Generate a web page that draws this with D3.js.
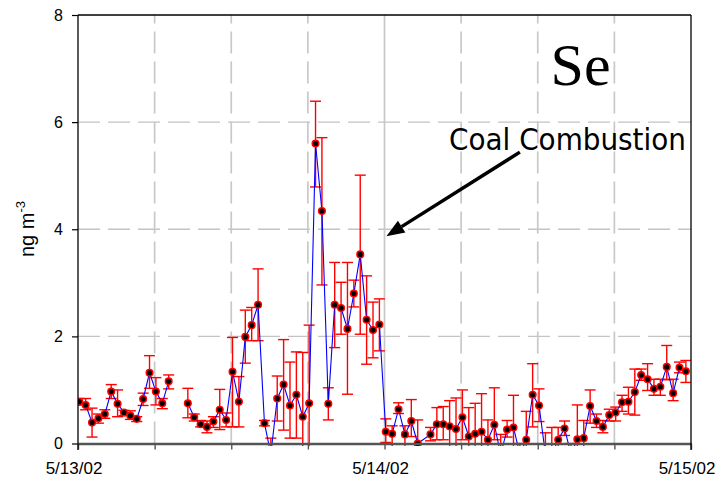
<!DOCTYPE html>
<html><head><meta charset="utf-8">
<script src="https://cdn.jsdelivr.net/npm/d3@7"></script>
<style>body{margin:0;background:#fff}svg{display:block}</style>
</head><body>
<svg id="c" width="719" height="479"></svg>
<script>
// hours after 5/13/02 00:00
const hours = [0.1,0.6,1.1,1.6,2.1,2.6,3.1,3.6,4.1,4.6,5.1,5.6,6.1,6.6,7.1,7.6,
 8.6,9.1,9.6,10.1,10.6,11.1,11.6,12.1,12.6,13.1,13.6,14.1,14.6,15.1,15.6,16.1,16.6,17.1,17.6,18.1,
 18.6,19.1,19.6,20.1,20.6,21.1,21.6,22.1,22.6,23.1,23.6,24.1,24.6,25.1,25.6,26.1,26.6,
 27.6,28.1,28.6,29.1,29.6,30.1,30.6,31.1,31.6,32.1,32.6,33.1,33.6,34.1,34.6,35.1,35.6,36.1,36.6,
 37.1,37.6,38.1,38.6,39.1,39.6,40.1,40.6,41.1,41.6,42.1,42.6,43.1,43.6,44.1,44.6,45.1,45.6,46.1,46.6,47.1,47.6];
const seValues = [0.78,0.72,0.39,0.47,0.55,0.97,0.74,0.58,0.52,0.46,0.83,1.32,0.97,0.75,1.16,null,
 0.75,0.49,0.36,0.31,0.41,0.63,0.44,1.34,0.78,1.99,2.21,2.59,0.38,-0.2,0.84,1.10,0.71,0.91,0.50,0.75,
 5.60,4.34,0.74,2.59,2.53,2.14,2.80,3.53,2.31,2.12,2.22,0.22,0.18,0.64,0.17,0.42,0.0,
 0.17,0.36,0.36,0.32,0.27,0.49,0.13,0.18,0.22,0.07,0.35,-0.2,0.26,0.30,-0.2,0.07,0.91,0.71,-0.2,
 -0.2,0.07,0.28,-0.2,0.08,0.10,0.70,0.42,0.31,0.53,0.58,0.77,0.78,0.96,1.28,1.20,1.02,1.06,1.43,0.94,1.42,1.35];
const seLow = [0.72,0.63,0.12,0.38,0.47,0.84,0.50,0.52,0.45,0.41,0.71,1.03,0.72,0.65,1.02,null,
 0.48,0.42,0.31,0.20,0.30,0.26,0.31,0.31,0.31,1.50,1.92,1.92,0.33,-0.4,0.42,0.25,0.10,0.10,-0.2,-0.7,
 4.79,2.96,0.44,1.79,2.04,0.92,2.55,2.04,1.48,1.60,1.73,0.02,-0.1,0.56,-0.1,0.13,-0.3,
 0.05,0.07,0.07,-0.1,-0.1,0.07,-0.1,-0.1,-0.1,-0.1,0.07,-0.4,0.12,-0.1,-0.4,-0.1,0.31,0.41,-0.4,
 -0.4,-0.1,0.15,-0.4,-0.1,-0.1,0.38,0.30,0.20,0.42,0.42,0.60,0.55,0.53,1.18,0.99,0.90,0.90,1.19,0.80,1.32,1.14];
const seHigh = [0.84,0.84,0.66,0.55,0.63,1.10,1.00,0.62,0.61,0.50,0.94,1.64,1.23,0.84,1.28,null,
 1.03,0.55,0.43,0.42,0.50,1.01,0.57,1.98,1.25,2.49,2.54,3.26,0.43,0.10,1.26,1.94,1.52,1.71,1.70,2.21,
 6.39,5.71,1.04,3.38,3.01,3.38,3.05,5.01,3.13,2.64,2.70,0.46,0.33,0.76,0.33,0.82,0.44,
 0.30,0.67,0.69,0.80,0.85,1.00,0.67,0.75,0.93,0.44,1.04,0.17,0.43,0.90,0.0,0.60,1.49,1.02,0.20,
 0.30,0.30,0.42,0.0,0.72,0.43,1.00,0.55,0.43,0.64,0.68,0.90,1.05,1.39,1.39,1.49,1.20,1.20,1.83,1.20,1.52,1.55];
const yTicks = [0,2,4,6,8];
const gridHours = [6,12,18,24,30,36,42];
const xTickHours = [0,6,12,18,24,30,36,42,48];
const xLabels = {0:"5/13/02",24:"5/14/02",48:"5/15/02"};

const base = new Date(2002,4,13,0,0,0);
const toDate = h => new Date(base.getTime() + h*3600e3);
const data = hours.map((h,i)=>({t:toDate(h), v:seValues[i], lo:seLow[i], hi:seHigh[i]}));

const L=78, R=691, T=15, B=443.5;
const x = d3.scaleTime().domain([toDate(0), toDate(48)]).range([L,R]);
const y = d3.scaleLinear().domain([0,8]).range([B,T]);
const svg = d3.select("#c");

// grid
const grid = svg.append("g");
grid.selectAll("line.h").data([2,4,6]).join("line")
  .attr("x1",L).attr("x2",R).attr("y1",d=>y(d)).attr("y2",d=>y(d))
  .attr("stroke","#c4c4c4").attr("stroke-width",1.4).attr("stroke-dasharray","22,8");
grid.selectAll("line.v").data(gridHours).join("line")
  .attr("x1",d=>x(toDate(d))).attr("x2",d=>x(toDate(d))).attr("y1",B).attr("y2",T)
  .attr("stroke","#c8c8c8").attr("stroke-width",1.7)
  .attr("stroke-dasharray",d=>d===24?null:"22,8");

// clip
svg.append("clipPath").attr("id","clip").append("rect")
  .attr("x",L).attr("y",T).attr("width",R-L).attr("height",446-T);
const plot = svg.append("g").attr("clip-path","url(#clip)");
const pts = data.filter(d=>d.v!==null);

// error bars
const eb = plot.append("g").attr("stroke","#ff0000").attr("stroke-width",1.4).attr("fill","none");
pts.forEach(d=>{
  const cx = x(d.t);
  eb.append("line").attr("x1",cx).attr("x2",cx).attr("y1",y(d.lo)).attr("y2",y(d.hi));
  eb.append("line").attr("x1",cx-5.5).attr("x2",cx+5.5).attr("y1",y(d.lo)).attr("y2",y(d.lo));
  eb.append("line").attr("x1",cx-5.5).attr("x2",cx+5.5).attr("y1",y(d.hi)).attr("y2",y(d.hi));
});
// line
plot.append("path").datum(data)
  .attr("d", d3.line().defined(d=>d.v!==null).x(d=>x(d.t)).y(d=>y(d.v)))
  .attr("fill","none").attr("stroke","#0000ff").attr("stroke-width",1.1);
// markers
plot.append("g").selectAll("circle").data(pts).join("circle")
  .attr("cx",d=>x(d.t)).attr("cy",d=>y(d.v)).attr("r",3.3)
  .attr("fill","#000").attr("stroke","#ff0000").attr("stroke-width",1.5);

// axes
const ya = svg.append("g").attr("transform",`translate(${L},0)`)
  .call(d3.axisLeft(y).tickValues(yTicks).tickSize(6).tickPadding(9).tickFormat(d3.format("d")));
ya.select(".domain").remove();
ya.selectAll("line").attr("stroke","#000").attr("stroke-width",1.2);
ya.selectAll("text").attr("font-family","Liberation Sans, Arial, sans-serif").attr("font-size",16).attr("fill","#000");

const xa = svg.append("g").attr("transform",`translate(0,${B})`)
  .call(d3.axisBottom(x).tickValues(xTickHours.map(toDate)).tickSize(6).tickSizeOuter(0)
    .tickFormat(d=>{const h=Math.round((d-base)/3600e3); return xLabels[h]||"";}));
xa.select(".domain").attr("stroke","#555").attr("stroke-width",2.4);
xa.selectAll("line").attr("stroke","#555").attr("stroke-width",1.4);
xa.selectAll("text").attr("font-family","Liberation Sans, Arial, sans-serif").attr("font-size",17)
  .attr("fill","#000").attr("y",30.5).attr("dy",0).attr("dx",-4.5);

// frame
svg.append("line").attr("x1",L).attr("x2",L).attr("y1",T).attr("y2",450).attr("stroke","#000").attr("stroke-width",1.3);
svg.append("line").attr("x1",R).attr("x2",R).attr("y1",T).attr("y2",450).attr("stroke","#000").attr("stroke-width",1.3);
svg.append("line").attr("x1",L).attr("x2",R).attr("y1",T).attr("y2",T).attr("stroke","#000").attr("stroke-width",1.3);

// y label
const yl = svg.append("text").attr("transform","translate(34,229) rotate(-90)")
  .attr("text-anchor","middle").attr("font-family","Liberation Sans, Arial, sans-serif").attr("font-size",20);
yl.append("tspan").text("ng m");
yl.append("tspan").attr("dy",-9).attr("font-size",13).text("-3");

// annotations
svg.append("text").attr("x",x(toDate(37.0))).attr("y",y(6.69))
  .attr("font-family","Liberation Serif, Times New Roman, serif").attr("font-size",60).text("Se");
svg.append("text").attr("x",x(toDate(29.05))).attr("y",y(5.48))
  .attr("font-family","DejaVu Sans, sans-serif").attr("font-size",30)
  .attr("textLength",237).attr("lengthAdjust","spacingAndGlyphs").text("Coal Combustion");
const tip = [x(toDate(24.15)), y(3.87)], tail = [x(toDate(34.6)), y(5.44)];
const ang = Math.atan2(tip[1]-tail[1], tip[0]-tail[0]);
const hl = 18, hw = 7;
const bx = tip[0]-hl*Math.cos(ang), by = tip[1]-hl*Math.sin(ang);
svg.append("line").attr("x1",tail[0]).attr("y1",tail[1]).attr("x2",bx).attr("y2",by)
  .attr("stroke","#000").attr("stroke-width",3.5);
svg.append("path").attr("d",`M${tip[0]},${tip[1]}L${bx+hw*Math.sin(ang)},${by-hw*Math.cos(ang)}L${bx-hw*Math.sin(ang)},${by+hw*Math.cos(ang)}Z`)
  .attr("fill","#000");
</script>
</body></html>
